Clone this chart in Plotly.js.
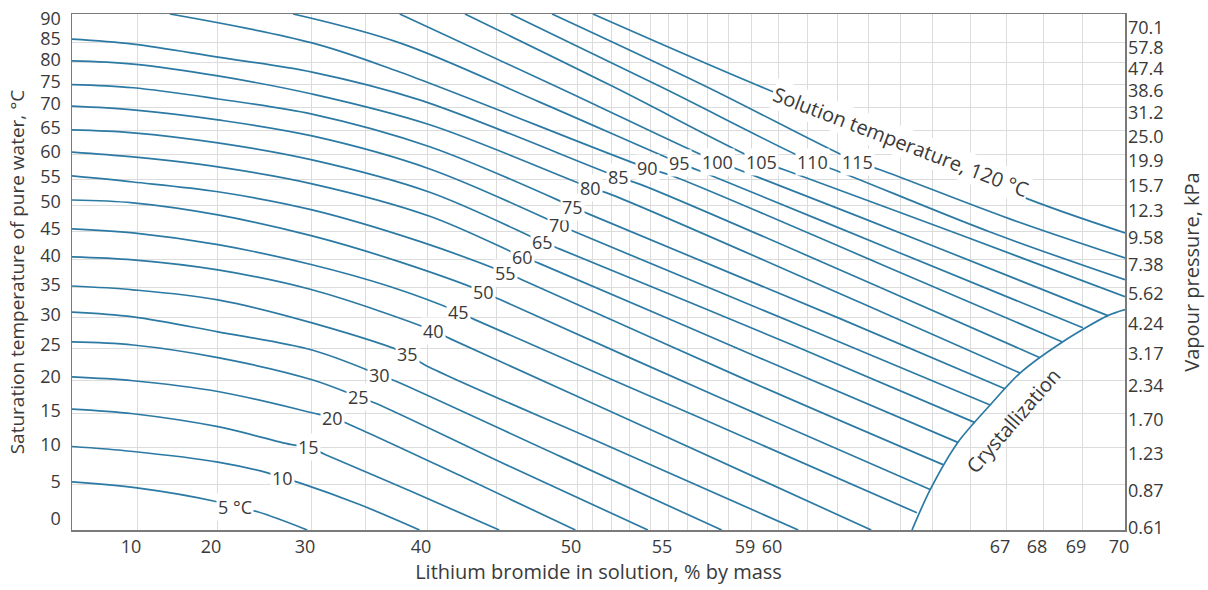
<!DOCTYPE html>
<html>
<head>
<meta charset="utf-8">
<script src="https://cdn.plot.ly/plotly-3.0.1.min.js"></script>
<style>
html,body{margin:0;padding:0;background:#fff;}
#chart{width:1208px;height:590px;}
</style>
</head>
<body>
<div id="chart"></div>
<script>
// ---------- axis tick tables ----------
const satTempTicks = [0,5,10,15,20,25,30,35,40,45,50,55,60,65,70,75,80,85,90];
const vapourPressureTicks = ['0.61','0.87','1.23','1.70','2.34','3.17','4.24','5.62','7.38','9.58','12.3','15.7','19.9','25.0','31.2','38.6','47.4','57.8','70.1'];
const satTempGrid = [5,10,15,20,25,30,35,40,45,50,55,60,65,70,75,80,85];
const concLabelTicks = [10,20,30,40,50,55,59,60,67,68,69,70];
const concGridTicks = [10,20,30,35,40,45,50,51,52,53,54,55,56,57,58,59,60,61,62,63,64,65,66,67,68,69];
// non-linear concentration scale of the printed chart (concentration -> relative axis position)
const concScale    = [0,10,20,30,35,40,45,50,51,52,53,54,55,56,57,58,59,60,61,62,63,64,65,66,67,68,69,70];
const concScalePos = [0,65,145,239,293,355,424,505,520,539,557,578,596,615,635,656,679,706,735,765,796,828,860,898,934,971,1010,1053];

// ---------- isotherms: LiBr % by mass vs saturation temperature of pure water (°C) ----------
const solutionTemps = [5,10,15,20,25,30,35,40,45,50,55,60,65,70,75,80,85,90,95,100,105,110,115,120];
const c5   = [0,10,20,21.9,24.4,29.6];                 const t5   = [5.35,4.53,2.67,2.0,1.3,-1.1];
const c10  = [0,9.4,20.1,25.3,27.0,28.8,34.5,39.4];    const t10  = [10.2,9.5,8.05,6.6,5.9,5.2,2.3,-1.1];
const c15  = [0,9.4,20.1,27.8,29.7,31.3,38.8,45.2];    const t15  = [15.7,15.0,13.1,10.5,10.1,9.1,4.0,-1.1];
const c20  = [0,9.4,20.1,30.1,32.0,33.6,42.4,49.9];    const t20  = [20.5,19.9,18.3,15.15,14.4,13.4,6.2,-1.1];
const c25  = [0,9.4,20.1,30.1,34.4,35.8,45.9,53.9];    const t25  = [26.0,25.5,23.5,20.05,17.5,16.6,7.4,-1.1];
const c30  = [0,9.4,20.1,30.1,36.2,37.4,49.0,57.7];    const t30  = [30.9,30.1,27.65,24.7,20.8,19.9,8.8,-1.1];
const c35  = [0,9.4,20.1,30.1,38.4,39.8,52.0,60.7];    const t35  = [35.3,34.65,32.95,29.1,24.1,22.4,10.1,-1.1];
const c40  = [0,9.4,20.1,30.1,40.5,41.7,54.6,63.1];    const t40  = [40.4,39.85,38.1,34.65,27.8,26.5,12.0,-1.1];
const c45  = [0,9.4,20.1,30.1,37.0,42.3,43.5,56.65,64.53]; const t45 = [45.5,44.75,42.6,39.0,35.2,30.9,29.6,14.4,1.2];
const c50  = [0,9.4,20.1,30.1,37.8,44.1,45.25,57.6,64.94]; const t50 = [51.0,50.45,48.15,44.2,39.5,34.3,33.0,17.4,4.3];
const c55  = [0,9.4,20.1,30.1,39.4,45.6,46.6,58.5,65.29];  const t55 = [55.7,54.5,52.6,49.1,43.2,37.6,36.4,20.5,7.7];
const c60  = [0,9.4,20.1,30.1,40.2,46.65,47.7,59.3,65.68]; const t60 = [60.5,59.5,57.5,54.15,47.9,40.4,39.2,23.5,10.8];
const c65  = [0,9.4,20.1,30.1,40.2,47.9,48.95,60.5,66.14]; const t65 = [65.1,64.5,62.4,58.9,52.5,43.1,41.8,25.5,13.7];
const c70  = [0,9.4,20.1,30.1,40.2,48.95,49.9,61.45,66.56]; const t70 = [70.2,69.4,67.25,63.85,57.1,46.25,44.9,27.3,16.3];
const c75  = [0,9.4,20.1,30.1,40.2,49.75,50.8,62.1,66.97]; const t75 = [75.0,74.3,71.8,68.5,61.6,49.7,48.3,29.8,18.7];
const c80  = [0,9.4,20.1,30.1,40.2,50.9,52.05,62.75,67.38]; const t80 = [80.5,79.75,77.0,72.9,66.2,53.4,52.0,32.5,21.1];
const c85  = [0,9.4,20.1,30.1,39.4,52.4,53.6,63.4,67.92];  const t85 = [85.7,84.5,81.4,77.9,71.6,55.5,53.95,35.0,23.5];
const c90  = [14.1,30.1,37.8,53.86,55.1,63.4,68.5];   const t90 = [91.9,84.8,77.9,57.3,55.9,39.1,26.0];
const c95  = [28.1,37.8,47.7,55.6,56.65,64.0,69.02];  const t95 = [91.9,84.8,71.1,58.3,56.7,41.1,28.3];
const c100 = [37.8,48.95,57.5,58.5,64.94,69.6];       const t100 = [91.9,74.2,58.5,56.9,42.6,30.3];
const c105 = [42.75,51.95,59.4,60.24,65.74,70];       const t105 = [91.9,74.9,58.5,56.9,44.4,33.5];
const c110 = [45.9,54.6,61.17,61.93,66.56,70];        const t110 = [91.9,74.5,58.5,56.9,44.9,36.4];
const c115 = [48.46,56.9,62.65,63.4,67.1,70];         const t115 = [91.9,74.7,58.5,56.9,47.4,40.2];
const c120 = [51.05,59.5,64.0,67.38,70];              const t120 = [91.9,74.2,62.6,51.8,44.75];
// index of the point of each isotherm where its label sits
const labelPoint = [3,4,4,4,4,4,4,4,5,5,5,5,5,5,5,5,5,3,3,2,2,2,2,2];
// crystallization line
const cCryst = [64.375,64.94,65.68,66.56,67.38,68.5,69.6,70];
const tCryst = [-1.1,4.27,10.8,16.3,21.1,26.0,30.3,31.3];

const isoConc = [c5,c10,c15,c20,c25,c30,c35,c40,c45,c50,c55,c60,c65,c70,c75,c80,c85,c90,c95,c100,c105,c110,c115,c120];
const isoTsat = [t5,t10,t15,t20,t25,t30,t35,t40,t45,t50,t55,t60,t65,t70,t75,t80,t85,t90,t95,t100,t105,t110,t115,t120];

// ---------- scales ----------
function interp(v, xsArr, ysArr){
  const n = xsArr.length;
  let i = 0;
  if (v <= xsArr[0]) i = 0;
  else if (v >= xsArr[n-1]) i = n-2;
  else { while (v > xsArr[i+1]) i++; }
  const t = (v - xsArr[i])/(xsArr[i+1]-xsArr[i]);
  return ysArr[i] + t*(ysArr[i+1]-ysArr[i]);
}
const logP = vapourPressureTicks.map(p => Math.log10(Number(p)));
const xs = c => interp(c, concScale, concScalePos);       // concentration -> axis
const ys = T => interp(T, satTempTicks, logP);            // sat. temperature -> log10(vapour pressure)

const FONT = "'Open Sans', 'Noto Sans', sans-serif";
const TXT = '#3a3a3a';
const LINE = '#2c7aa3';

const traces = [];
isoConc.forEach((cArr, k) => {
  traces.push({
    type:'scatter', mode:'lines',
    x: cArr.map(xs), y: isoTsat[k].map(ys),
    line:{color:LINE, width:1.7, shape:'spline', smoothing:1},
    hoverinfo:'skip', name: solutionTemps[k] + ' °C'
  });
});
traces.push({
  type:'scatter', mode:'lines', yaxis:'y2',
  x: cCryst.map(xs), y: tCryst.map(ys),
  line:{color:LINE, width:1.7, shape:'spline', smoothing:0.8},
  hoverinfo:'skip', name:'Crystallization'
});

const annotations = [];
solutionTemps.forEach((T, k) => {
  if (k === solutionTemps.length-1) return;
  const i = labelPoint[k];
  annotations.push({
    x: xs(isoConc[k][i]), y: ys(isoTsat[k][i]), xref:'x', yref:'y',
    text: k === 0 ? T + ' °C' : String(T),
    showarrow:false, xanchor:'center', yanchor:'middle',
    bgcolor:'#ffffff', borderpad:1,
    font:{family:FONT, size:18, color:TXT}
  });
});
{
  const k = solutionTemps.length-1, i = labelPoint[k];
  annotations.push({
    x: xs(isoConc[k][i]), y: ys(isoTsat[k][i]), xref:'x', yref:'y',
    text: 'Solution temperature, ' + solutionTemps[k] + ' °C',
    showarrow:false, xanchor:'center', yanchor:'middle', textangle:21,
    bgcolor:'#ffffff', borderpad:1,
    font:{family:FONT, size:20, color:TXT}
  });
}
annotations.push({
  x: xs(67.2), y: ys(14.0), xref:'x', yref:'y',
  text:'Crystallization', showarrow:false, textangle:-49,
  xanchor:'center', yanchor:'middle',
  font:{family:FONT, size:20, color:TXT}
});

const yRange = [ys(-1.1), ys(91.9)];
const layout = {
  width:1208, height:590,
  margin:{l:72, r:83, t:14, b:60},
  paper_bgcolor:'#ffffff', plot_bgcolor:'#ffffff',
  showlegend:false,
  font:{family:FONT, color:TXT, size:18},
  xaxis:{
    range:[xs(0), xs(70)], fixedrange:true,
    tickmode:'array', tickvals: concLabelTicks.map(xs), ticktext: concLabelTicks.map(String),
    showgrid:false, zeroline:false, showline:true, mirror:true,
    linecolor:'#7a7a7a', linewidth:1.5, ticks:'',
    ticklabelshift:-6, ticklabelstandoff:0,
    tickfont:{family:FONT, size:18, color:TXT},
    minor:{tickmode:'array', tickvals: concGridTicks.map(xs), showgrid:true, gridcolor:'#dcdcdc', gridwidth:1, ticks:''},
    title:{text:'Lithium bromide in solution, % by mass', font:{family:FONT, size:20, color:TXT}, standoff:6}
  },
  yaxis:{
    range:yRange, fixedrange:true,
    tickmode:'array', tickvals: satTempTicks.map(ys), ticktext: satTempTicks.map(String),
    showgrid:false, zeroline:false, showline:true, mirror:true,
    linecolor:'#7a7a7a', linewidth:1.5, ticks:'',
    ticklabelshift:-3, ticklabelstandoff:6,
    tickfont:{family:FONT, size:18, color:TXT},
    minor:{tickmode:'array', tickvals: satTempGrid.map(ys), showgrid:true, gridcolor:'#dcdcdc', gridwidth:1, ticks:''},
    title:{text:'Saturation temperature of pure water, °C', font:{family:FONT, size:19, color:TXT}, standoff:10}
  },
  yaxis2:{
    overlaying:'y', side:'right', range:yRange, fixedrange:true,
    tickmode:'array', tickvals: satTempTicks.map(ys), ticktext: vapourPressureTicks,
    showgrid:false, zeroline:false, showline:false, ticks:'',
    ticklabelshift:6, ticklabelstandoff:2,
    tickfont:{family:FONT, size:18, color:TXT},
    title:{text:'Vapour pressure, kPa', font:{family:FONT, size:20, color:TXT}, standoff:22}
  },
  annotations: annotations
};

Plotly.newPlot('chart', traces, layout, {staticPlot:true, displayModeBar:false});
</script>
</body>
</html>
